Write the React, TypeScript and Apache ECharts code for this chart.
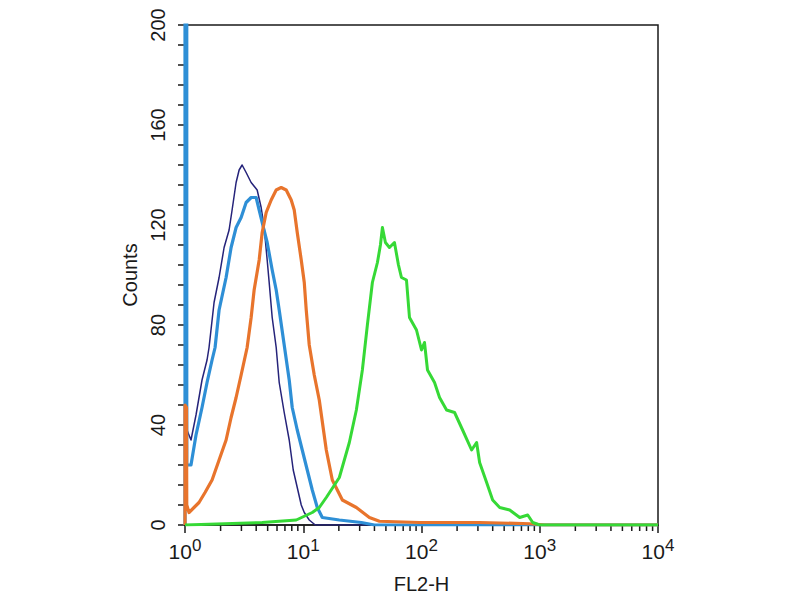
import React, { useEffect, useRef } from "react";
import * as echarts from "echarts";

// Tick labels / minor tick values
const Y_MIN = 0;
const Y_MAX = 200;
const Y_INTERVAL = 40;
const X_MIN = 1;
const X_MAX = 10000;
const X_MINOR_TICKS = [
  2, 3, 4, 5, 6, 7, 8, 9,
  20, 30, 40, 50, 60, 70, 80, 90,
  200, 300, 400, 500, 600, 700, 800, 900,
  2000, 3000, 4000, 5000, 6000, 7000, 8000, 9000,
];

// Series values [FL2-H, count]
const NAVY: [number, number][] = [
  [1, 40], [1.08, 36], [1.124, 34], [1.239, 44], [1.393, 58], [1.536, 66], [1.597, 71],
  [1.761, 89], [1.942, 99], [2.141, 111], [2.36, 118], [2.502, 126], [2.705, 137],
  [2.869, 142], [3.041, 144], [3.288, 141], [3.625, 137], [4.076, 134], [4.407, 127],
  [4.672, 119], [4.954, 106], [5.151, 97], [5.462, 83], [5.905, 71], [6.261, 57],
  [6.902, 45], [7.609, 34], [8.228, 22], [8.897, 15], [9.618, 8], [10.2, 5],
  [11.24, 2], [12.64, 0], [10000, 0],
];

const BLUE: [number, number][] = [
  [1, 0], [1, 260], [1.035, 260], [1.035, 24], [1.124, 24], [1.239, 36], [1.393, 47],
  [1.536, 57], [1.694, 66], [1.796, 71], [1.942, 86], [2.226, 99], [2.454, 111],
  [2.705, 119], [2.983, 123], [3.288, 129], [3.625, 131], [3.997, 131], [4.239, 126],
  [4.494, 121], [4.954, 113], [5.462, 102], [5.905, 94], [6.261, 86], [6.902, 72],
  [7.609, 58], [8.068, 47], [8.897, 38], [9.806, 30], [10.81, 22], [11.92, 14],
  [13.14, 7], [14.49, 3], [20.19, 2], [31.0, 1], [39.97, 0], [10000, 0],
];

const ORANGE: [number, number][] = [
  [1, 0], [1, 48], [1.03, 47], [1.035, 8], [1.081, 5], [1.192, 7], [1.314, 9],
  [1.477, 13], [1.694, 18], [1.942, 26], [2.226, 34], [2.454, 43], [2.705, 51],
  [2.983, 60], [3.353, 71], [3.625, 83], [3.843, 94], [4.239, 106], [4.494, 117],
  [4.859, 125], [5.356, 130], [5.905, 134], [6.51, 135], [7.177, 134], [7.912, 130],
  [8.389, 126], [8.897, 117], [9.618, 106], [10.2, 97], [10.6, 86], [11.24, 72],
  [12.39, 60], [13.66, 50], [15.66, 30], [17.61, 18], [21.41, 10], [28.13, 7],
  [36.25, 3], [44.07, 1.5], [96.2, 1], [310, 1], [823, 0.5], [1102, 0], [10000, 0],
];

const GREEN: [number, number][] = [
  [1, 0], [4.494, 1], [8.725, 2], [11.92, 5], [13.66, 7], [15.66, 11], [20.19, 19],
  [24.53, 33], [28.13, 46], [31.62, 62], [34.86, 80], [38.43, 97], [42.39, 105],
  [44.94, 112], [46.72, 119], [49.54, 113], [53.56, 111], [59.05, 113], [63.86, 104],
  [67.69, 99], [74.63, 98], [79.13, 83], [90.69, 78], [100, 70], [106, 73],
  [112.4, 62], [128.9, 57], [142.1, 51], [162.9, 46], [190.4, 45], [222.6, 38],
  [265.3, 30], [292.5, 33], [310.1, 25], [355.5, 17], [399.7, 10], [458.2, 7],
  [556.8, 6], [676.9, 3], [791.3, 4], [872.6, 1], [1000, 0], [10000, 0],
];

const FONT = "Liberation Sans, Arial, Helvetica, sans-serif";
const INK = "#1a1a1a";

export default function App() {
  const ref = useRef<HTMLDivElement>(null);

  useEffect(() => {
    if (!ref.current) return;
    const chart = echarts.init(ref.current, null, { renderer: "svg" });

    const lineSeries = (name: string, data: [number, number][], color: string, width: number) => ({
      name,
      type: "line",
      data,
      showSymbol: false,
      symbol: "none",
      lineStyle: { color, width, join: "round" },
      itemStyle: { color },
      clip: true,
      silent: true,
    });

    chart.setOption({
      animation: false,
      backgroundColor: "#ffffff",
      grid: {
        left: 185,
        right: 142,
        top: 25,
        bottom: 75,
        show: true,
        borderColor: INK,
        borderWidth: 1.5,
        backgroundColor: "transparent",
      },
      xAxis: {
        type: "log",
        logBase: 10,
        min: X_MIN,
        max: X_MAX,
        name: "FL2-H",
        nameLocation: "middle",
        nameGap: 49,
        nameTextStyle: { fontSize: 20, color: INK, fontFamily: FONT, verticalAlign: "top" },
        axisLine: { show: true, lineStyle: { color: INK, width: 1.5 } },
        axisTick: { show: true, length: 8, lineStyle: { color: INK, width: 1.5 } },
        splitLine: { show: false },
        axisLabel: {
          margin: 12,
          formatter: (v: number) => `{b|10}{s|${Math.round(Math.log10(v))}}`,
          rich: {
            b: { fontSize: 21, lineHeight: 21, padding: [8, 0, 0, 0], color: INK, fontFamily: FONT },
            s: { fontSize: 17, lineHeight: 17, verticalAlign: "top", color: INK, fontFamily: FONT },
          },
        },
      },
      yAxis: {
        type: "value",
        min: Y_MIN,
        max: Y_MAX,
        interval: Y_INTERVAL,
        name: "Counts",
        nameLocation: "middle",
        nameRotate: 90,
        nameGap: 44,
        nameTextStyle: { fontSize: 20, color: INK, fontFamily: FONT },
        axisLine: { show: true, lineStyle: { color: INK, width: 1.5 } },
        axisTick: { show: true, length: 7, lineStyle: { color: INK, width: 1.5 } },
        minorTick: { show: true, splitNumber: 5, length: 7, lineStyle: { color: INK, width: 1.5 } },
        splitLine: { show: false },
        minorSplitLine: { show: false },
        axisLabel: { rotate: 90, margin: 17, fontSize: 20, color: INK, fontFamily: FONT },
      },
      series: [
        {
          type: "custom",
          silent: true,
          clip: false,
          data: X_MINOR_TICKS.map((v) => [v, 0]),
          encode: { x: 0, y: 1 },
          renderItem: (_p: any, api: any) => {
            const pt = api.coord([api.value(0), 0]);
            return {
              type: "line",
              shape: { x1: pt[0], y1: pt[1], x2: pt[0], y2: pt[1] + 6 },
              style: { stroke: INK, lineWidth: 1.5 },
            };
          },
        },
        lineSeries("navy", NAVY, "#25237a", 1.5),
        lineSeries("blue", BLUE, "#2e8fd6", 3.2),
        lineSeries("orange", ORANGE, "#e8742c", 3.2),
        lineSeries("green", GREEN, "#36d936", 3),
      ],
    });

    return () => chart.dispose();
  }, []);

  return (
    <div
      ref={ref}
      style={{ position: "fixed", left: 0, top: 0, width: 800, height: 600, background: "#fff" }}
    />
  );
}
